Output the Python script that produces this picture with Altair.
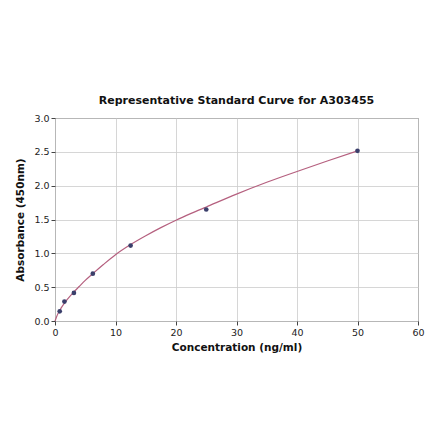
import altair as alt
import pandas as pd

# standard points
conc = [0.78, 1.56, 3.125, 6.25, 12.5, 25, 50]
absorb = [0.143, 0.287, 0.415, 0.70, 1.115, 1.648, 2.515]

# fitted curve
curve_x = [0, 0.25, 0.5, 0.78, 1, 1.56, 2, 3.125, 4, 5, 6.25, 8, 10, 12.5,
           15, 17.5, 20, 22.5, 25, 30, 35, 40, 45, 50]
curve_y = [0.0, 0.06, 0.11, 0.155, 0.19, 0.265, 0.315, 0.43, 0.51, 0.60, 0.70,
           0.835, 0.98, 1.13, 1.26, 1.38, 1.49, 1.59, 1.685, 1.875, 2.05, 2.21,
           2.365, 2.515]

x_ticks = [0, 10, 20, 30, 40, 50, 60]
y_ticks = [0.0, 0.5, 1.0, 1.5, 2.0, 2.5, 3.0]

df_pts = pd.DataFrame({"conc": conc, "abs": absorb})
df_curve = pd.DataFrame({"conc": curve_x, "abs": curve_y})

x_enc = alt.X(
    "conc:Q",
    title="Concentration (ng/ml)",
    scale=alt.Scale(domain=[0, 60], nice=False),
    axis=alt.Axis(values=x_ticks, format="d"),
)
y_enc = alt.Y(
    "abs:Q",
    title="Absorbance (450nm)",
    scale=alt.Scale(domain=[0, 3], nice=False),
    axis=alt.Axis(values=y_ticks, format=".1f"),
)

line = (
    alt.Chart(df_curve)
    .mark_line(color="#b5607f", strokeWidth=1.2, interpolate="monotone")
    .encode(x=x_enc, y=y_enc)
)

points = (
    alt.Chart(df_pts)
    .mark_circle(color="#3b3f6b", size=22, opacity=1)
    .encode(x=x_enc, y=y_enc)
)

chart = (
    alt.layer(line, points)
    .properties(
        width=363,
        height=203,
        title="Representative Standard Curve for A303455",
        autosize=alt.AutoSizeParams(type="none"),
        padding={"left": 47, "top": 110, "right": 10, "bottom": 80},
    )
    .configure(font="DejaVu Sans")
    .configure_view(stroke="#666666", strokeWidth=1)
    .configure_title(fontSize=11, fontWeight="bold", color="#111111", offset=7)
    .configure_axis(
        grid=True,
        gridColor="#cccccc",
        gridWidth=0.8,
        domain=False,
        tickColor="#444444",
        tickSize=4,
        labelFontSize=9.5,
        labelColor="#222222",
        labelFlush=False,
        titleFontSize=10.5,
        titleFontWeight="bold",
        titleColor="#111111",
        labelPadding=2,
    )
    .configure_axisX(titlePadding=6)
    .configure_axisY(titlePadding=8)
)

chart.save("out.html", embed_options={"renderer": "svg", "actions": False})
